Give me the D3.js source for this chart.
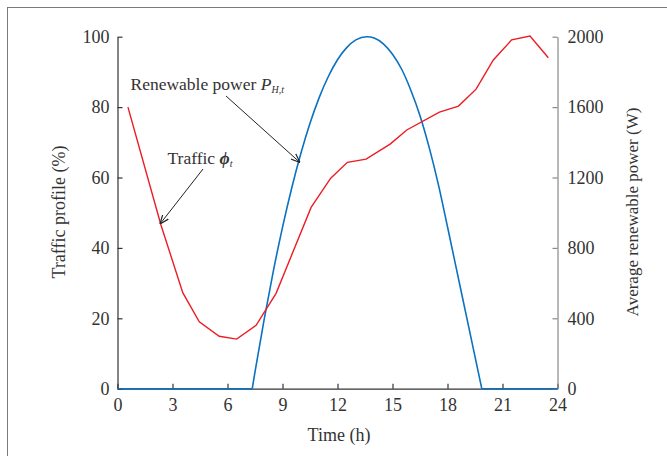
<!DOCTYPE html>
<html><head><meta charset="utf-8">
<script src="https://cdn.jsdelivr.net/npm/d3@7"></script>
<style>body{margin:0;background:#fff}svg{display:block}text{font-family:"Liberation Serif","Times New Roman",serif;fill:#333}</style>
</head><body><svg id="c" width="667" height="456"></svg>
<script>
// Data
const xTicks = [0,3,6,9,12,15,18,21,24];
const leftTicks = [0,20,40,60,80,100];
const rightTicks = [0,400,800,1200,1600,2000];
const trafficHour = [0.57,2.37,3.56,4.46,5.55,6.5,7.56,8.65,10.56,11.63,12.54,13.56,14.87,15.78,17.56,18.6,19.56,20.5,21.5,22.5,23.5];
const trafficPct  = [80,46.5,27.3,19.0,14.9,14.1,18.0,27.1,51.5,59.8,64.3,65.2,69.5,73.5,78.6,80.3,85.1,93.4,99.1,100.2,94.0];
const powerHour = [0,7.35,7.5,8,8.5,9,9.5,10,10.5,11,11.5,12,12.5,13,13.6,14,14.5,15,15.5,16,16.5,17,17.5,18,18.5,19,19.5,19.87,24];
const powerW    = [0,0,95,394,668,917,1139,1336,1508,1654,1774,1869,1938,1982,2000,1992,1959,1900,1815,1696,1551,1371,1161,920,674,428,182,0,0];

const svg = d3.select("#c");
const L=117.5, R=557.5, T=36.7, B=388.7;
const x = d3.scaleLinear().domain([0,24]).range([L,R]);
const yL = d3.scaleLinear().domain([0,100]).range([B,T]);
const yR = d3.scaleLinear().domain([0,2000]).range([B,T]);

// frame
svg.append("rect").attr("x",7.5).attr("y",7.5).attr("width",700).attr("height",500)
  .attr("fill","none").attr("stroke","#7a7a7a").attr("stroke-width",1);

function styleAxis(g, col){
  g.select(".domain").attr("stroke",col).attr("stroke-width",1.2);
  g.selectAll(".tick line").attr("stroke",col).attr("stroke-width",1.2);
  g.selectAll(".tick text").attr("fill","#333").style("font-size","18px").style("font-family",'"Liberation Serif",serif');
}
const gx = svg.append("g").attr("transform",`translate(0,${B})`)
  .call(d3.axisBottom(x).tickValues(xTicks).tickSizeInner(-5).tickSizeOuter(0).tickPadding(10));
styleAxis(gx,"#333");
const gl = svg.append("g").attr("transform",`translate(${L},0)`)
  .call(d3.axisLeft(yL).tickValues(leftTicks).tickSizeInner(-5).tickSizeOuter(0).tickPadding(8));
styleAxis(gl,"#333");
const gr = svg.append("g").attr("transform",`translate(${R},0)`)
  .call(d3.axisRight(yR).tickValues(rightTicks).tickFormat(d3.format("d")).tickSizeInner(-5).tickSizeOuter(0).tickPadding(10));
styleAxis(gr,"#888");

// lines
const trafficData = trafficHour.map((h,i)=>[h,trafficPct[i]]);
const powerData = powerHour.map((h,i)=>[h,powerW[i]]);
const n = powerData.length;
const lineLin = d3.line().x(d=>x(d[0])).y(d=>yR(d[1]));
const lineSmooth = d3.line().x(d=>x(d[0])).y(d=>yR(d[1])).curve(d3.curveMonotoneX);
const blue = "#0a72c0";
svg.append("path").datum(powerData.slice(0,2)).attr("fill","none").attr("stroke",blue).attr("stroke-width",1.6).attr("d",lineLin);
svg.append("path").datum(powerData.slice(n-2)).attr("fill","none").attr("stroke",blue).attr("stroke-width",1.6).attr("d",lineLin);
svg.append("path").datum(powerData.slice(1,n-1)).attr("fill","none").attr("stroke",blue).attr("stroke-width",1.6).attr("d",lineSmooth);
svg.append("path").datum(trafficData).attr("fill","none").attr("stroke","#ec1c24").attr("stroke-width",1.4)
  .attr("d", d3.line().x(d=>x(d[0])).y(d=>yL(d[1])));

// axis labels
svg.append("text").attr("x",339).attr("y",441).attr("text-anchor","middle").style("font-size","18px").text("Time (h)");
svg.append("text").attr("transform","translate(65,212) rotate(-90)").attr("text-anchor","middle").style("font-size","18px").text("Traffic profile (%)");
svg.append("text").attr("transform","translate(638,212) rotate(-90)").attr("text-anchor","middle").style("font-size","17px").text("Average renewable power (W)");

// annotations
const defs = svg.append("defs");
defs.append("marker").attr("id","ah").attr("viewBox","0 0 10 10").attr("refX",10).attr("refY",5)
  .attr("markerWidth",9).attr("markerHeight",9).attr("orient","auto-start-reverse").attr("markerUnits","userSpaceOnUse")
  .append("path").attr("d","M0,1 L10,5 L0,9").attr("fill","none").attr("stroke","#222").attr("stroke-width",1.3);

const t1 = svg.append("text").attr("x",130.5).attr("y",90).style("font-size","17.5px");
t1.append("tspan").text("Renewable power ");
t1.append("tspan").style("font-style","italic").text("P");
t1.append("tspan").style("font-style","italic").style("font-size","10px").attr("dy",3).text("H,t");
svg.append("line").attr("x1",226).attr("y1",96).attr("x2",300).attr("y2",162.5)
  .attr("stroke","#222").attr("stroke-width",1).attr("marker-end","url(#ah)");

const t2 = svg.append("text").attr("x",167.5).attr("y",164).style("font-size","17.5px");
t2.append("tspan").text("Traffic ");
t2.append("tspan").style("font-style","italic").style("font-weight","bold").text("ϕ");
t2.append("tspan").style("font-style","italic").style("font-size","10px").attr("dy",3).text("t");
svg.append("line").attr("x1",203).attr("y1",169).attr("x2",160).attr("y2",224)
  .attr("stroke","#222").attr("stroke-width",1).attr("marker-end","url(#ah)");
</script></body></html>
